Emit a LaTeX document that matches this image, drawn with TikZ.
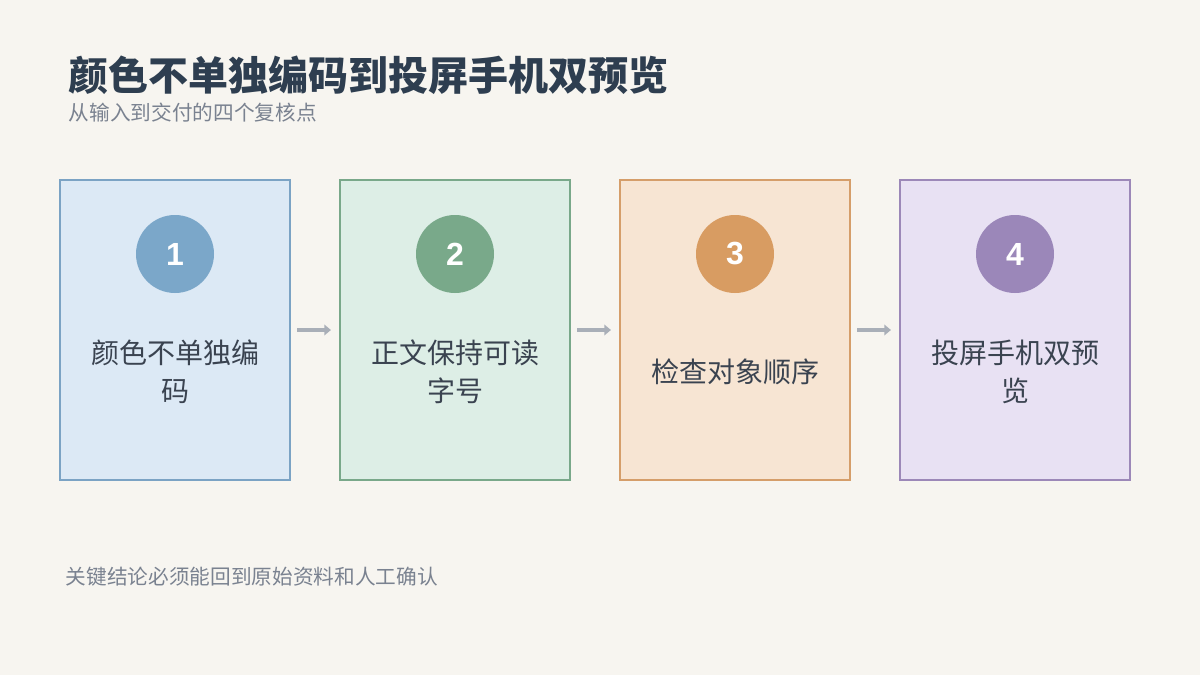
\documentclass[tikz,border=0pt]{standalone}
\usepackage{fontspec}
\setmainfont{Noto Sans CJK SC}
\newfontfamily\numfont{Liberation Sans}
\usetikzlibrary{arrows.meta}
\definecolor{bg}{HTML}{F7F5F0}
\definecolor{ttl}{HTML}{2E3E50}
\definecolor{sub}{HTML}{7A8290}
\definecolor{txt}{HTML}{3A4350}
\definecolor{fa}{HTML}{DCE9F5}\definecolor{ba}{HTML}{7BA3C4}\definecolor{ca}{HTML}{7BA7C9}
\definecolor{fb}{HTML}{DDEEE6}\definecolor{bb}{HTML}{79A88A}\definecolor{cb}{HTML}{79A98A}
\definecolor{fc}{HTML}{F7E5D3}\definecolor{bc}{HTML}{D59E6A}\definecolor{cc}{HTML}{D89C62}
\definecolor{fd}{HTML}{E8E1F3}\definecolor{bd}{HTML}{9C88B8}\definecolor{cd}{HTML}{9B87B9}
\definecolor{arr}{HTML}{A9AFB8}
\begin{document}
\begin{tikzpicture}[x=0.75pt,y=-0.75pt,
  box/.style={draw=#1,line width=1.6pt,minimum width=172.5pt,minimum height=225pt,inner sep=0pt},
  num/.style={circle,fill=#1,minimum size=58.5pt,inner sep=0pt,text=white,font=\fontsize{24}{28}\selectfont\numfont\bfseries},
  lbl/.style={text=txt,align=center,font=\fontsize{21}{28.5}\selectfont},
  con/.style={arr,line width=3pt,-{Triangle[length=5pt,width=8pt]}}]
\fill[bg] (0,0) rectangle (1200,675);
\useasboundingbox (0,0) rectangle (1200,675);
\node[anchor=west,text=ttl,font=\fontsize{30}{34}\selectfont\bfseries] (title) at (64,75) {颜色不单独编码到投屏手机双预览};
\node[anchor=west,text=sub,font=\fontsize{15.5}{18}\selectfont] (subt) at (64,113) {从输入到交付的四个复核点};
\node[anchor=west,text=sub,font=\fontsize{15.5}{18}\selectfont] (foot) at (61,577) {关键结论必须能回到原始资料和人工确认};
\foreach \i/\x/\f/\b/\c/\t in {1/175/fa/ba/ca/{颜色不单独编\\码}, 2/455/fb/bb/cb/{正文保持可读\\字号}, 3/735/fc/bc/cc/检查对象顺序, 4/1015/fd/bd/cd/{投屏手机双预\\览}}{
  \node[box=\b,fill=\f] (b\i) at (\x,330) {};
  \node[num=\c] (n\i) at (\x,254) {\i};
  \node[lbl] (t\i) at (\x,372) {\t};
}
\draw[con] ([xshift=4.5pt]b1.east) -- ([xshift=-6pt]b2.west);
\draw[con] ([xshift=4.5pt]b2.east) -- ([xshift=-6pt]b3.west);
\draw[con] ([xshift=4.5pt]b3.east) -- ([xshift=-6pt]b4.west);
\end{tikzpicture}
\end{document}
